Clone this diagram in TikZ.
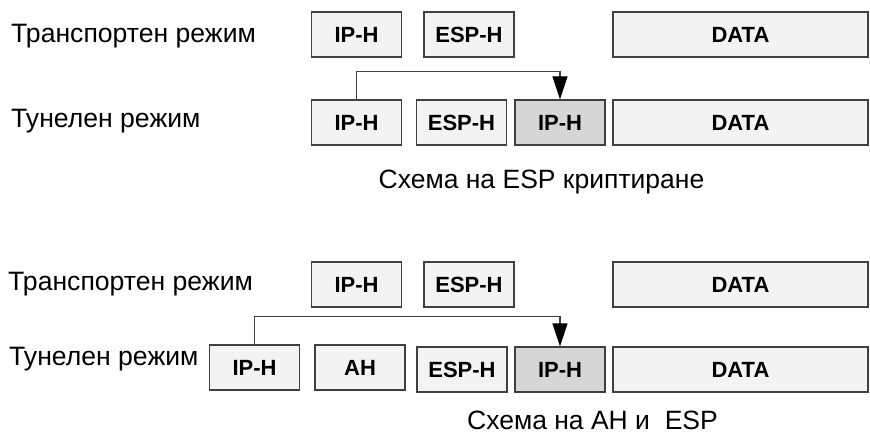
\documentclass[tikz,border=0pt]{standalone}
\usepackage{fontspec}
\setmainfont{Liberation Sans}
\usetikzlibrary{arrows.meta}
\definecolor{boxfill}{HTML}{F3F3F3}
\definecolor{boxdark}{HTML}{D6D6D6}
\definecolor{boxline}{HTML}{404040}
\tikzset{field/.style = {shape=rectangle,draw=boxline,line width=1.2pt,fill=boxfill,
  minimum width=90pt,minimum height=45pt,inner sep=0pt,font=\bfseries\fontsize{22}{26}\selectfont}}
\tikzset{inner/.style = {field,fill=boxdark}}
\tikzset{datafield/.style = {field,minimum width=255pt}}
\tikzset{mode/.style = {anchor=base west,inner sep=0pt,font=\fontsize{26.6}{30}\selectfont}}
\tikzset{caption/.style = {anchor=base,inner sep=0pt,font=\fontsize{26.5}{30}\selectfont}}
\tikzset{link/.style = {draw=boxline,line width=1.2pt,-{Triangle[length=23pt,width=15pt,black]}}}

\begin{document}
\begin{tikzpicture}[x=1pt,y=-1pt]
        \useasboundingbox (0,0) rectangle (870,433);

        % ESP, transport and tunnel
        \node[mode] (m1) at (11, 43) {Транспортен режим};
        \node[field] (t1ip) at (356.5, 34.5) {IP-H};
        \node[field] (t1esp) at (469, 34.5) {ESP-H};
        \node[datafield] (t1data) at (740.5, 34.5) {DATA};

        \node[mode] (m2) at (11, 128) {Тунелен режим};
        \node[field] (u1ip) at (356.5, 122.5) {IP-H};
        \node[field] (u1esp) at (461.5, 122.5) {ESP-H};
        \node[inner] (u1ipg) at (560, 122.5) {IP-H};
        \node[datafield] (u1data) at (740.5, 122.5) {DATA};

        \draw[link] (u1ip.north) -- ++(0,-28) -| (u1ipg.north);
        \node[caption] (c1) at (541.5, 188) {Схема на ESP криптиране};

        % AH and ESP, transport and tunnel
        \node[mode] (m3) at (8, 290) {Транспортен режим};
        \node[field] (t2ip) at (356.5, 284.5) {IP-H};
        \node[field] (t2esp) at (469, 284.5) {ESP-H};
        \node[datafield] (t2data) at (740.5, 284.5) {DATA};

        \node[mode] (m4) at (9, 365) {Тунелен режим};
        \node[field] (u2ip) at (254.5, 367.5) {IP-H};
        \node[field] (u2ah) at (360, 367.5) {AH};
        \node[field] (u2esp) at (462, 369.5) {ESP-H};
        \node[inner] (u2ipg) at (560, 369.5) {IP-H};
        \node[datafield] (u2data) at (740.5, 369.5) {DATA};

        \draw[link] (u2ip.north) -- ++(0,-28) -| (u2ipg.north);
        \node[caption] (c2) at (592.5, 429) {Схема на АН и\ \ ESP};
\end{tikzpicture}
\end{document}
